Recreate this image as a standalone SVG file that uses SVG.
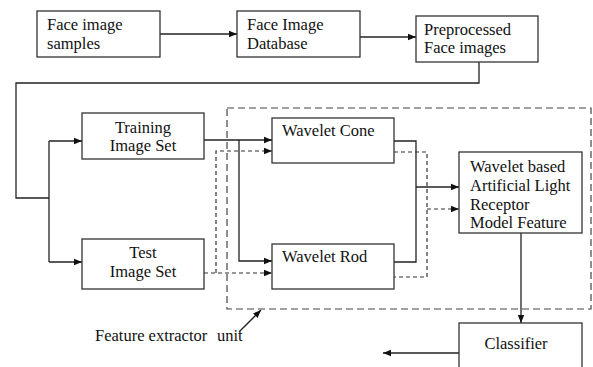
<svg xmlns="http://www.w3.org/2000/svg" width="593" height="367" viewBox="0 0 593 367">
<style>
.box{fill:#fff;stroke:#333;stroke-width:1.3}
text{font-family:"Liberation Serif","Times New Roman","DejaVu Serif",serif;font-size:16.5px;fill:#111}
.c{text-anchor:middle}
.ln{fill:none;stroke:#222;stroke-width:1.3}
.ds{fill:none;stroke:#333;stroke-width:1.2;stroke-dasharray:4 3}
.big{fill:none;stroke:#444;stroke-width:1.2;stroke-dasharray:7 4}
</style>
<defs>
<marker id="ah" viewBox="0 0 10 10" refX="10" refY="5" markerWidth="8" markerHeight="8" markerUnits="userSpaceOnUse" orient="auto">
<path d="M0,1 L10,5 L0,9 z" fill="#111"/>
</marker>
</defs>
<rect width="593" height="367" fill="#fff"/>
<g id="feature-extractor-unit">
<rect class="big" x="227" y="108" width="364" height="201"/>
</g>
<g id="connectors">
<line class="ln" x1="160" y1="34" x2="237" y2="34" marker-end="url(#ah)"/>
<line class="ln" x1="360" y1="37" x2="416" y2="37" marker-end="url(#ah)"/>
<polyline class="ln" points="479,62 479,83 16,83 16,198 49,198"/>
<line class="ln" x1="49" y1="141" x2="49" y2="262"/>
<line class="ln" x1="49" y1="141" x2="82" y2="141" marker-end="url(#ah)"/>
<line class="ln" x1="49" y1="262" x2="82" y2="262" marker-end="url(#ah)"/>
<line class="ln" x1="204" y1="140" x2="272" y2="140" marker-end="url(#ah)"/>
<polyline class="ln" points="239,140 239,261 272,261" marker-end="url(#ah)"/>
<line class="ds" x1="204" y1="273" x2="272" y2="273" marker-end="url(#ah)"/>
<polyline class="ds" points="216,273 216,151 272,151" marker-end="url(#ah)"/>
<polyline class="ln" points="394,141 416,141 416,262 394,262"/>
<line class="ln" x1="416" y1="187" x2="459" y2="187" marker-end="url(#ah)"/>
<polyline class="ds" points="394,152 427,152 427,277 394,277"/>
<line class="ds" x1="427" y1="209" x2="459" y2="209" marker-end="url(#ah)"/>
<line class="ln" x1="521" y1="233" x2="521" y2="323" marker-end="url(#ah)"/>
<line class="ln" x1="459" y1="353" x2="383" y2="353" marker-end="url(#ah)"/>
<line class="ln" x1="239" y1="332" x2="261" y2="310" marker-end="url(#ah)"/>
</g>
<g id="face-image-samples">
<rect class="box" x="37" y="11" width="123" height="46"/>
<text x="47" y="30">Face image</text>
<text x="47" y="49">samples</text>
</g>
<g id="face-image-database">
<rect class="box" x="237" y="11" width="123" height="46"/>
<text x="247" y="30">Face Image</text>
<text x="247" y="49">Database</text>
</g>
<g id="preprocessed-face-images">
<rect class="box" x="416" y="16" width="122" height="46"/>
<text x="424" y="35">Preprocessed</text>
<text x="424" y="53">Face images</text>
</g>
<g id="training-image-set">
<rect class="box" x="82" y="113" width="122" height="46"/>
<text class="c" x="143" y="133">Training</text>
<text class="c" x="143" y="151">Image Set</text>
</g>
<g id="test-image-set">
<rect class="box" x="82" y="239" width="122" height="50"/>
<text class="c" x="143" y="258">Test</text>
<text class="c" x="143" y="277">Image Set</text>
</g>
<g id="wavelet-cone">
<rect class="box" x="272" y="118" width="122" height="45"/>
<text x="282" y="136">Wavelet Cone</text>
</g>
<g id="wavelet-rod">
<rect class="box" x="272" y="244" width="122" height="45"/>
<text x="282" y="262">Wavelet Rod</text>
</g>
<g id="wavelet-feature">
<rect class="box" x="459" y="152" width="123" height="81"/>
<text x="470" y="172">Wavelet based</text>
<text x="470" y="191">Artificial Light</text>
<text x="470" y="210">Receptor</text>
<text x="470" y="228">Model Feature</text>
</g>
<g id="classifier">
<rect class="box" x="459" y="323" width="123" height="50"/>
<text class="c" x="516" y="349">Classifier</text>
</g>
<g id="label">
<text x="95" y="341">Feature extractor <tspan x="217">unit</tspan></text>
</g>
</svg>
